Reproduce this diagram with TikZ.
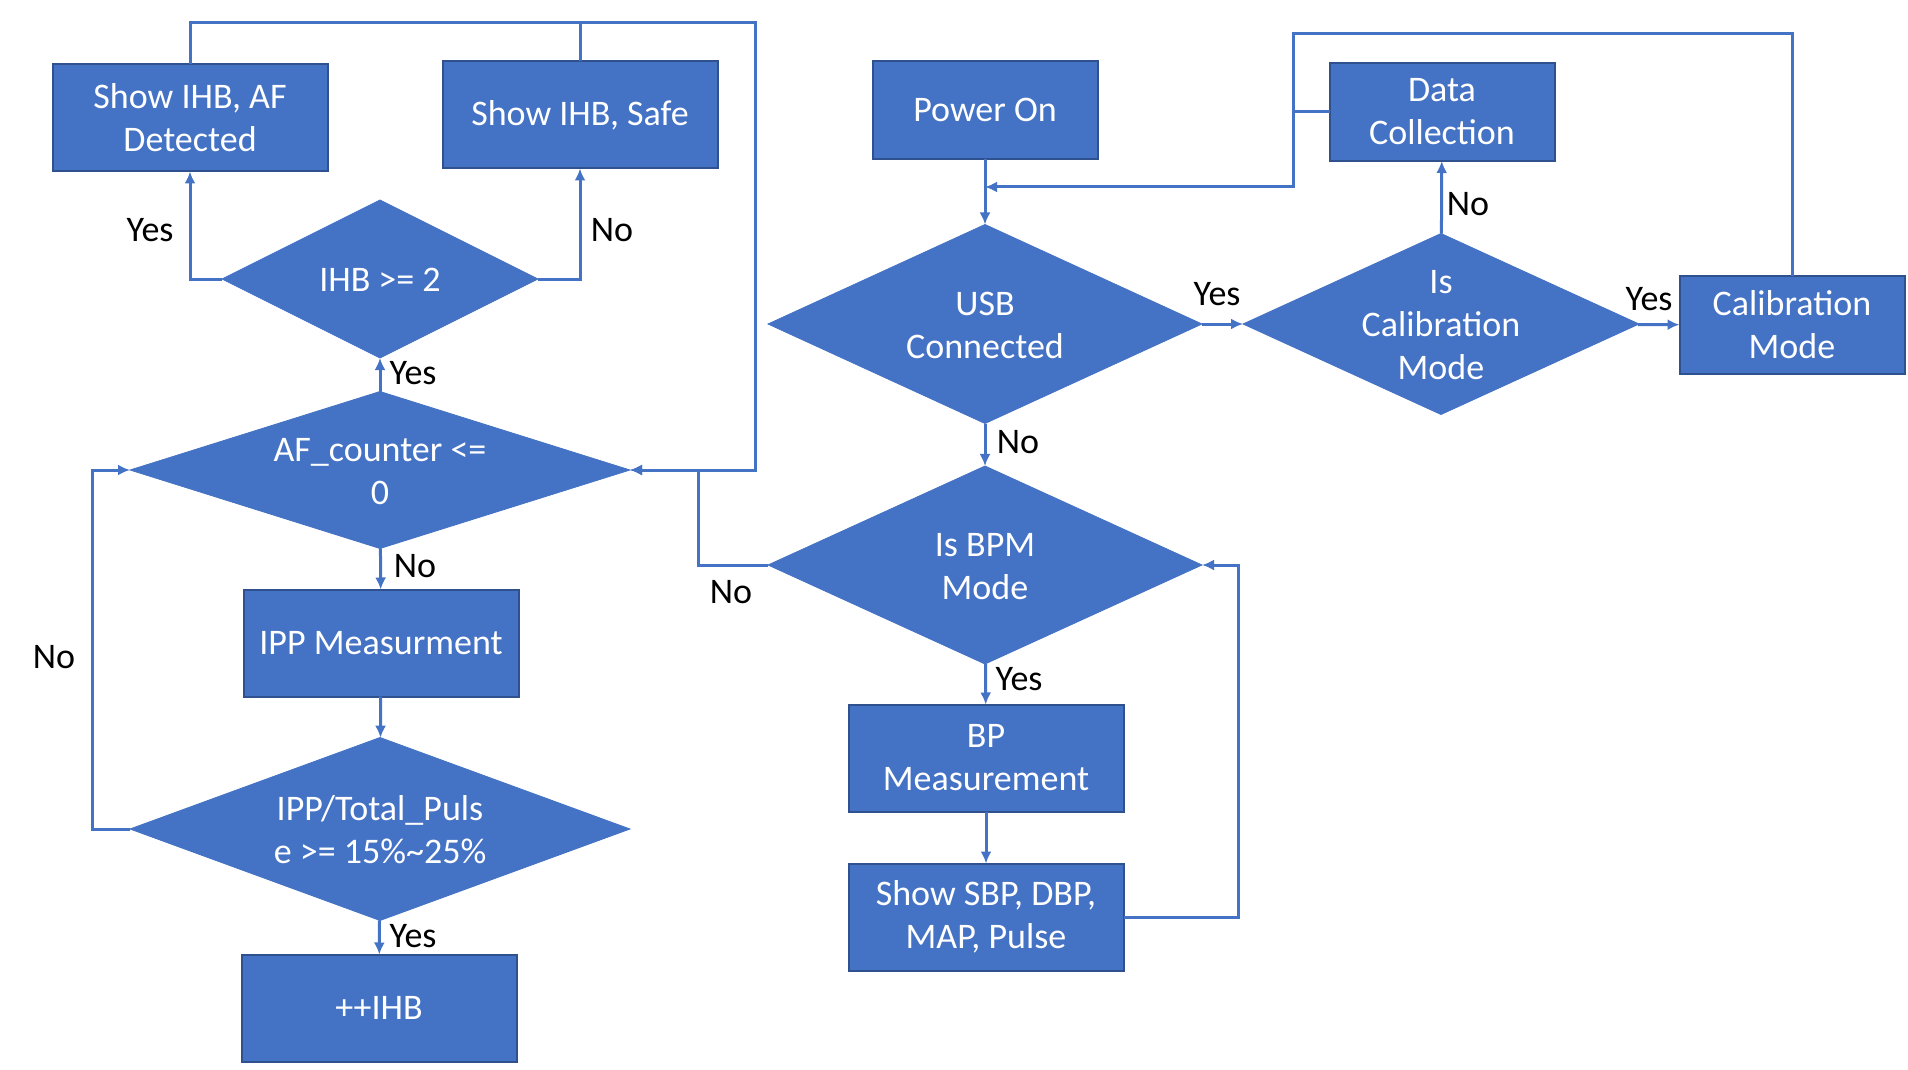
\documentclass[tikz,border=0pt]{standalone}
\usepackage{fontspec}
\setmainfont{Carlito}
\usepackage{xcolor}
\usepackage{tikz}
\usetikzlibrary{arrows,arrows.meta,shapes.geometric}
\definecolor{boxblue}{HTML}{4472C4}
\definecolor{edgeblue}{HTML}{2F528F}
\newcommand{\dtxt}[1]{\smash{\raisebox{-0.35em}{\begin{tabular}{@{}c@{}}#1\end{tabular}}}}

\begin{document}
\begin{tikzpicture}[>={Latex[length=6pt,width=5.5pt]}, x=0.5pt, y=-0.5pt]
        \tikzset{block/.style={draw=edgeblue, fill=boxblue, line width=1pt, rectangle, align=center, text=white, inner sep=0pt, outer sep=0pt, minimum width=137.5pt, minimum height=53.5pt, font=\fontsize{18}{21.5}\selectfont},
        sblock/.style={block, minimum width=112.5pt, minimum height=49pt},
        decision/.style={draw=boxblue, fill=boxblue, diamond, aspect=3, inner sep=0pt, outer sep=0pt, text=white, font=\fontsize{18}{21.5}\selectfont},
        lbl/.style={inner sep=0pt, font=\fontsize{18}{21.5}\selectfont},
        link/.style={draw=boxblue, line width=1.5pt}
        }
        \useasboundingbox (0,0) rectangle (1908,1070);

%% left column
        \node [block] (afshow) at (190,118) {Show IHB, AF\\Detected};
        \node [block] (safe) at (580,115) {Show IHB, Safe};
        \node [decision, minimum width=158pt, minimum height=79pt] (ihb) at (380,279) {\dtxt{IHB >= 2}};
        \node [decision, minimum width=250pt, minimum height=78.5pt] (afc) at (380,470) {\dtxt{AF\_counter <=\\0}};
        \node [block] (ippm) at (381,643) {IPP Measurment};
        \node [decision, minimum width=250pt, minimum height=91.5pt] (ratio) at (380,829) {\dtxt{IPP/Total\_Puls\\e >= 15\%\textasciitilde25\%}};
        \node [block] (incr) at (379,1008) {++IHB};

%% right part
        \node [sblock] (power) at (985,110) {Power On};
        \node [decision, minimum width=217pt, minimum height=99.5pt] (usb) at (985,324) {\dtxt{USB\\Connected}};
        \node [sblock] (datacol) at (1442,112) {Data\\Collection};
        \node [decision, minimum width=198pt, minimum height=90.5pt] (iscal) at (1441,324) {\dtxt{Is\\Calibration\\Mode}};
        \node [sblock] (calmode) at (1792,325) {Calibration\\Mode};
        \node [decision, minimum width=217pt, minimum height=99pt] (bpm) at (985,565) {\dtxt{Is BPM\\Mode}};
        \node [block] (bpmeas) at (986,758) {BP\\Measurement};
        \node [block] (showbp) at (986,917) {Show SBP, DBP,\\MAP, Pulse};

        \coordinate (loopR) at (755,23);  %% top right corner of the IHB loop
        \coordinate (joinR) at (698,470);
        \coordinate (loopL) at (92,470);
        \coordinate (bpR) at (1238,565);
        \coordinate (calT) at (1293,34);
        \coordinate (calB) at (1293,187);

%% labels
        \node [lbl] (yesA) at (150,230) {Yes};
        \node [lbl] (noA) at (612,230) {No};
        \node [lbl] (yesB) at (413,373) {Yes};
        \node [lbl] (noB) at (415,566) {No};
        \node [lbl] (yesC) at (413,936) {Yes};
        \node [lbl] (noC) at (54,657) {No};
        \node [lbl] (noD) at (731,592) {No};
        \node [lbl] (noE) at (1018,442) {No};
        \node [lbl] (yesD) at (1019,679) {Yes};
        \node [lbl] (yesE) at (1217,294) {Yes};
        \node [lbl] (noF) at (1468,204) {No};
        \node [lbl] (yesF) at (1649,299) {Yes};

%% paths
        \path[link,->] (ihb.west) -| (afshow.south);
        \path[link,->] (ihb.east) -| (safe.south);
        \path[link,->] (afc) -- (ihb);
        \path[link,->] (afc) -- (ippm);
        \path[link,->] (ippm) -- (ratio);
        \path[link,->] (ratio) -- (incr);
        \path[link,->] (ratio.west) -| (loopL) -- (afc.west);
        \path[link,->] (afshow.north) |- (loopR) |- (afc.east);
        \path[link] (safe.north) -- (safe.north |- loopR);
        \path[link,->] (bpm.west) -| (joinR) -- (afc.east);
        \path[link,->] (power) -- (usb);
        \path[link,->] (usb) -- (bpm);
        \path[link,->] (bpm) -- (bpmeas);
        \path[link,->] (bpmeas) -- (showbp);
        \path[link,->] (showbp.east) -| (bpR) -- (bpm.east);
        \path[link,->] (usb) -- (iscal);
        \path[link,->] (iscal) -- (calmode);
        \path[link,->] (iscal) -- (datacol);
        \path[link,->] (calmode.north) |- (calT) -- (calB) -- (calB -| power.south);
        \path[link] (datacol.west) -- (datacol.west -| calB);
\end{tikzpicture}
\end{document}
